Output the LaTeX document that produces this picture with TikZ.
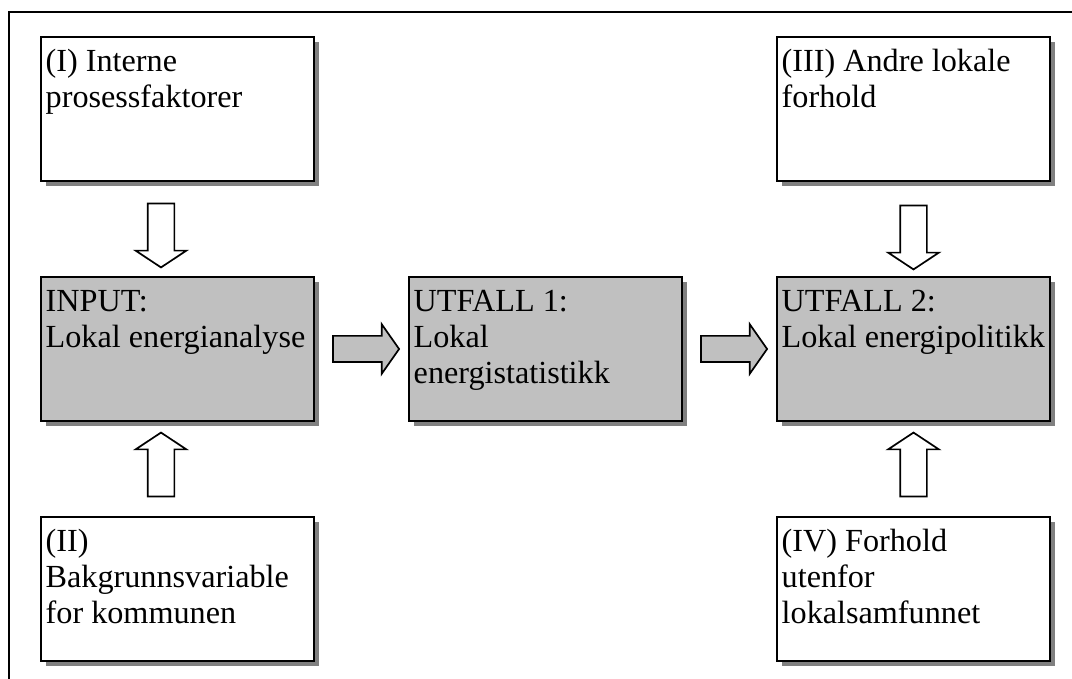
\documentclass[tikz,border=0pt]{standalone}
\usepackage{fontspec}
\setmainfont{Liberation Serif}
\usetikzlibrary{shapes.arrows,shadows,calc}
\definecolor{boxgray}{RGB}{192,192,192}
\definecolor{shadowgray}{RGB}{128,128,128}
\newcommand{\firstln}{\rule{0pt}{24pt}}
\begin{document}
\begin{tikzpicture}[x=1pt,y=-1pt,
  box/.style={draw, line width=2pt, minimum width=273pt, minimum height=144pt, inner sep=0pt, outer sep=0pt,
    drop shadow={shadow xshift=5pt, shadow yshift=-5pt, fill=shadowgray, opacity=1}},
  whitebox/.style={box, fill=white},
  graybox/.style={box, fill=boxgray},
  boxtext/.style={anchor=north west, inner sep=0pt, align=left, font=\fontsize{32.2}{36}\selectfont},
  varrow/.style={single arrow, draw, line width=1.7pt, fill=white, minimum height=64pt, inner sep=12.5pt,
    single arrow head extend=12pt, single arrow tip angle=113},
  harrow/.style={single arrow, draw, line width=1.7pt, fill=boxgray, minimum height=66pt, inner sep=12.25pt,
    single arrow head extend=11.75pt, single arrow tip angle=110},
  frame/.style={draw, line width=2pt}
]
\useasboundingbox (0,0) rectangle (1072,679);
% outer frame
\coordinate (fbl) at (9,685);
\coordinate (ftl) at (9,12);
\coordinate (ftr) at (1078,12);
\draw[frame] (fbl) -- (ftl) -- (ftr);

% boxes
\node[whitebox] (b1) at (177.5,109) {};
\node[whitebox] (b3) at (913.5,109) {};
\node[graybox] (in) at (177.5,349) {};
\node[graybox] (u1) at (545.5,349) {};
\node[graybox] (u2) at (913.5,349) {};
\node[whitebox] (b2) at (177.5,589) {};
\node[whitebox] (b4) at (913.5,589) {};

% texts
\node[boxtext] (t1) at ([xshift=4.5pt,yshift=-10.5pt]b1.north west) {\firstln(I) Interne\\prosessfaktorer};
\node[boxtext] (t3) at ([xshift=4.5pt,yshift=-10.5pt]b3.north west) {\firstln(III) Andre lokale\\forhold};
\node[boxtext] (tin) at ([xshift=4.5pt,yshift=-10.5pt]in.north west) {\firstln INPUT:\\Lokal energianalyse};
\node[boxtext] (tu1) at ([xshift=4.5pt,yshift=-10.5pt]u1.north west) {\firstln UTFALL 1:\\Lokal\\energistatistikk};
\node[boxtext] (tu2) at ([xshift=4.5pt,yshift=-10.5pt]u2.north west) {\firstln UTFALL 2:\\Lokal energipolitikk};
\node[boxtext] (t2) at ([xshift=4.5pt,yshift=-10.5pt]b2.north west) {\firstln(II)\\Bakgrunnsvariable\\for kommunen};
\node[boxtext] (t4) at ([xshift=4.5pt,yshift=-10.5pt]b4.north west) {\firstln(IV) Forhold\\utenfor\\lokalsamfunnet};

% block arrows
\node[varrow, rotate=-90] (a1) at ([xshift=-16.5pt,yshift=-2pt]$(b1.south)!0.5!(in.north)$) {};
\node[varrow, rotate=90] (a2) at ([xshift=-16.5pt]$(b2.north)!0.5!(in.south)$) {};
\node[harrow] (a3) at ($(in.east)!0.5!(u1.west)$) {};
\node[harrow] (a4) at ($(u1.east)!0.5!(u2.west)$) {};
\node[varrow, rotate=-90] (a5) at ([yshift=-4pt]$(b3.south)!0.5!(u2.north)$) {};
\node[varrow, rotate=90] (a6) at ($(b4.north)!0.5!(u2.south)$) {};
\end{tikzpicture}
\end{document}
